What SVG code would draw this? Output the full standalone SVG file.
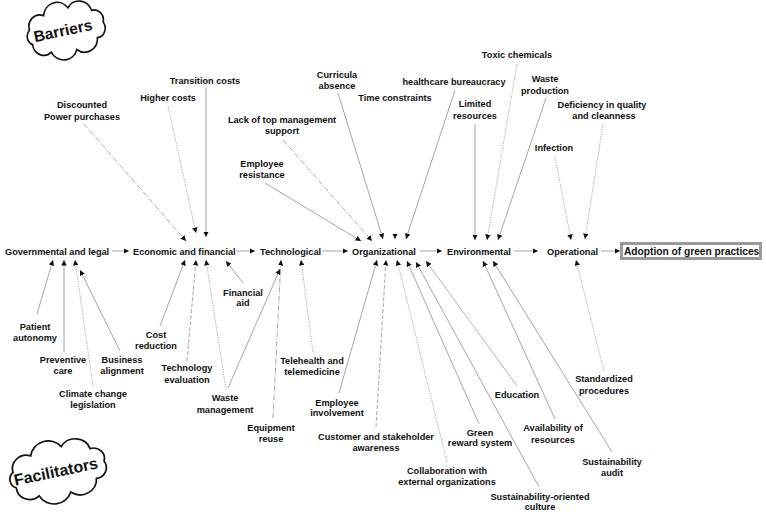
<svg xmlns="http://www.w3.org/2000/svg" width="766" height="515" viewBox="0 0 766 515">
<style>
text{font-family:"Liberation Sans",Arial,sans-serif;font-weight:bold;font-size:9.2px;fill:#111;text-anchor:middle}
.main{text-anchor:start}
.c{fill:none;stroke:#9c9c9c;stroke-width:0.9;marker-end:url(#ah)}
.dot{stroke-dasharray:1.2,1.3}
.dash{stroke-dasharray:4,2}
.dd{stroke-dasharray:5,1.5,1,1.5}
.cloud{fill:#fff;stroke:#111;stroke-width:1.6}
.big{font-size:15.5px}
</style>
<defs>
<marker id="ah" viewBox="0 0 10 10" refX="10" refY="5" markerWidth="5.5" markerHeight="5.5" markerUnits="userSpaceOnUse" orient="auto">
<path d="M0,0 L10,5 L0,10 z" fill="#111"/>
</marker>
<path id="cloudp" d="M38 0 A9 9 0 0 1 29.1 12.9 A13 13 0 0 1 6.6 19.7 A14 14 0 0 1 -19 17.3 A11 11 0 0 1 -35.7 6.8 A8 8 0 0 1 -35.7 -6.8 A11 11 0 0 1 -19 -17.3 A14 14 0 0 1 6.6 -19.7 A13 13 0 0 1 29.1 -12.9 A9 9 0 0 1 38 0 Z"/>
</defs>
<rect width="766" height="515" fill="#fff"/>

<g id="barriers-cloud">
<use href="#cloudp" class="cloud" transform="translate(66,30) rotate(-12) scale(1,1.08)"/>
<text class="big" transform="translate(64,36) rotate(-12)">Barriers</text>
</g>
<g id="facilitators-cloud">
<use href="#cloudp" class="cloud" style="stroke-width:1.4" transform="translate(58,471) rotate(-12) scale(1.24,1.18)"/>
<text class="big" style="font-size:16px" transform="translate(57,477) rotate(-12)">Facilitators</text>
</g>

<g id="connectors">
<line class="c" x1="112" y1="251" x2="129" y2="251"/>
<line class="c" x1="236" y1="251" x2="255" y2="251"/>
<line class="c" x1="322" y1="251" x2="348" y2="251"/>
<line class="c" x1="420" y1="251" x2="442" y2="251"/>
<line class="c" x1="514" y1="251" x2="538" y2="251"/>
<line class="c" x1="601" y1="251" x2="620" y2="251"/>

<line class="c dd" x1="84" y1="124" x2="186" y2="241"/>
<line class="c dot" x1="168" y1="106" x2="196" y2="233"/>
<line class="c" x1="206" y1="88" x2="206" y2="237"/>
<line class="c dd" x1="283" y1="140" x2="372" y2="241"/>
<line class="c" x1="265" y1="183" x2="361" y2="241"/>
<line class="c" x1="338" y1="93" x2="383" y2="239"/>
<line class="c" x1="395" y1="233" x2="395" y2="239"/>
<line class="c" x1="455" y1="90" x2="406" y2="239"/>
<line class="c" x1="475" y1="124" x2="475" y2="240"/>
<line class="c dot" x1="517" y1="64" x2="487" y2="240"/>
<line class="c" x1="546" y1="98" x2="498" y2="240"/>
<line class="c dot" x1="603" y1="124" x2="585" y2="239"/>
<line class="c dot" x1="555" y1="157" x2="571" y2="240"/>

<line class="c" x1="37" y1="314" x2="53" y2="260"/>
<line class="c" x1="64" y1="352" x2="64" y2="260"/>
<line class="c dot" x1="93" y1="386" x2="75" y2="260"/>
<line class="c" x1="120" y1="351" x2="80" y2="270"/>
<line class="c" x1="160" y1="326" x2="185" y2="260"/>
<line class="c dash" x1="187" y1="361" x2="196" y2="260"/>
<line class="c dot" x1="226" y1="390" x2="206" y2="260"/>
<line class="c" x1="243" y1="283" x2="226" y2="261"/>
<line class="c" x1="228" y1="388" x2="280" y2="269"/>
<line class="c dd" x1="273" y1="418" x2="281" y2="260"/>
<line class="c dot" x1="313" y1="352" x2="301" y2="260"/>
<line class="c" x1="339" y1="393" x2="377" y2="260"/>
<line class="c dash" x1="376" y1="427" x2="386" y2="260"/>
<line class="c dot" x1="447" y1="462" x2="397" y2="260"/>
<line class="c" x1="479" y1="424" x2="407" y2="261"/>
<line class="c" x1="539" y1="487" x2="416" y2="262"/>
<line class="c" style="stroke:#aaa" x1="517" y1="386" x2="426" y2="261"/>
<line class="c" x1="555" y1="419" x2="483" y2="261"/>
<line class="c" x1="612" y1="452" x2="493" y2="261"/>
<line class="c dot" x1="604" y1="371" x2="576" y2="260"/>
</g>

<g id="governmental"><text class="main" x="5" y="255">Governmental and legal</text></g>
<g id="economic"><text class="main" x="133" y="255">Economic and financial</text></g>
<g id="technological"><text class="main" x="260" y="255">Technological</text></g>
<g id="organizational"><text class="main" x="352" y="255">Organizational</text></g>
<g id="environmental"><text class="main" x="447" y="255">Environmental</text></g>
<g id="operational"><text class="main" x="547" y="255">Operational</text></g>
<g id="adoption">
<rect x="621" y="243" width="140" height="16" fill="#fff" stroke="#9a9a9a" stroke-width="2"/>
<rect x="622.5" y="244.5" width="137" height="13" fill="none" stroke="#555" stroke-width="0.6"/>
<text class="main" x="624" y="255" style="font-size:10.2px">Adoption of green practices</text>
</g>

<g id="discounted"><text x="82" y="108">Discounted</text><text x="82" y="120">Power purchases</text></g>
<g id="higher-costs"><text x="168" y="101">Higher costs</text></g>
<g id="transition-costs"><text x="205" y="84">Transition costs</text></g>
<g id="lack-top-management"><text x="282" y="123">Lack of top management</text><text x="282" y="134">support</text></g>
<g id="employee-resistance"><text x="262" y="167">Employee</text><text x="262" y="178">resistance</text></g>
<g id="curricula"><text x="337" y="78">Curricula</text><text x="337" y="89">absence</text></g>
<g id="time-constraints"><text x="395" y="101">Time constraints</text></g>
<g id="healthcare-bureaucracy"><text x="454" y="85">healthcare bureaucracy</text></g>
<g id="limited-resources"><text x="475" y="107">Limited</text><text x="475" y="119">resources</text></g>
<g id="toxic-chemicals"><text x="517" y="58">Toxic chemicals</text></g>
<g id="waste-production"><text x="545" y="82">Waste</text><text x="545" y="94">production</text></g>
<g id="deficiency"><text x="602" y="108">Deficiency in quality</text><text x="604" y="119">and cleanness</text></g>
<g id="infection"><text x="554" y="151">Infection</text></g>

<g id="patient-autonomy"><text x="35" y="330">Patient</text><text x="35" y="341">autonomy</text></g>
<g id="preventive-care"><text x="63" y="363">Preventive</text><text x="63" y="374">care</text></g>
<g id="business-alignment"><text x="122" y="363">Business</text><text x="122" y="374">alignment</text></g>
<g id="climate-change"><text x="93" y="397">Climate change</text><text x="93" y="408">legislation</text></g>
<g id="cost-reduction"><text x="156" y="338">Cost</text><text x="156" y="349">reduction</text></g>
<g id="technology-evaluation"><text x="187" y="371">Technology</text><text x="187" y="383">evaluation</text></g>
<g id="waste-management"><text x="225" y="401">Waste</text><text x="225" y="413">management</text></g>
<g id="financial-aid"><text x="243" y="296">Financial</text><text x="243" y="306">aid</text></g>
<g id="equipment-reuse"><text x="271" y="431">Equipment</text><text x="271" y="442">reuse</text></g>
<g id="telehealth"><text x="312" y="364">Telehealth and</text><text x="312" y="375">telemedicine</text></g>
<g id="employee-involvement"><text x="337" y="406">Employee</text><text x="337" y="416">involvement</text></g>
<g id="customer-awareness"><text x="376" y="440">Customer and stakeholder</text><text x="376" y="451">awareness</text></g>
<g id="collaboration"><text x="447" y="474">Collaboration with</text><text x="447" y="485">external organizations</text></g>
<g id="green-reward"><text x="480" y="436">Green</text><text x="480" y="446">reward system</text></g>
<g id="sustainability-culture"><text x="540" y="500">Sustainability-oriented</text><text x="540" y="510">culture</text></g>
<g id="education"><text x="517" y="398">Education</text></g>
<g id="availability"><text x="553" y="431">Availability of</text><text x="553" y="443">resources</text></g>
<g id="sustainability-audit"><text x="612" y="465">Sustainability</text><text x="612" y="476">audit</text></g>
<g id="standardized"><text x="604" y="382">Standardized</text><text x="604" y="394">procedures</text></g>
</svg>
